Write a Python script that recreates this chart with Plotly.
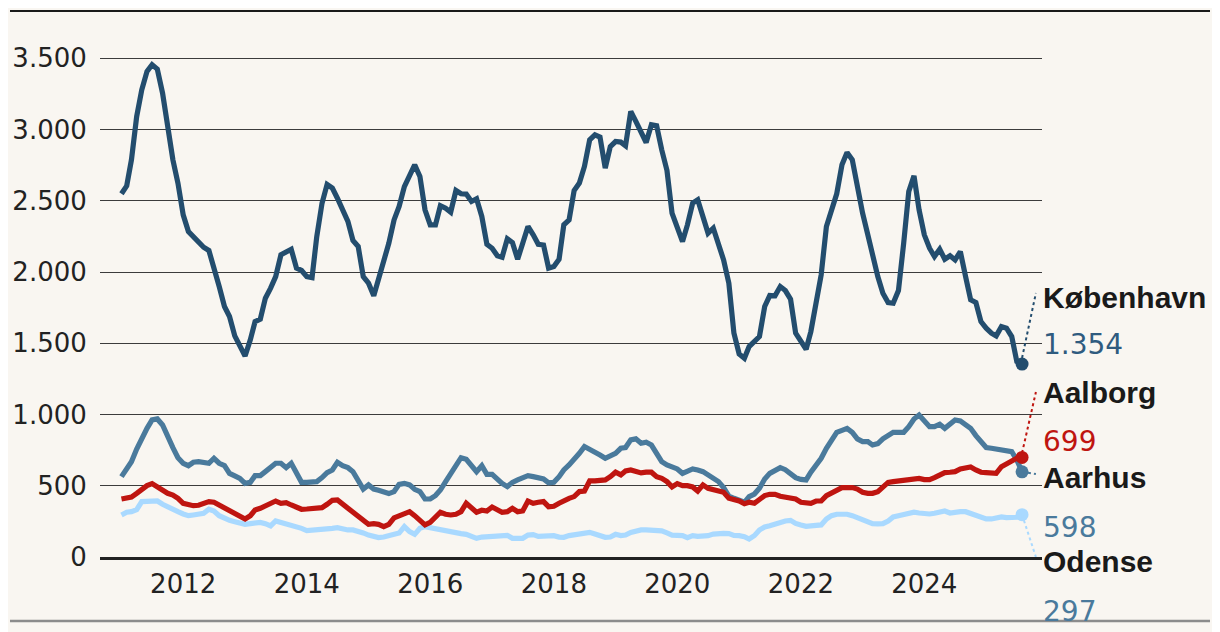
import pandas as pd
import plotly.graph_objects as go

# ---------------- data (monthly, Jan 2011 - Aug 2025) ----------------
start_month = "2011-01-01"
n_months = 176

koebenhavn = [
    2549, 2605, 2788, 3092, 3279, 3408, 3455, 3424, 3256, 3033,
    2788, 2624, 2401, 2284, 2249, 2202, 2174, 2151, 2039, 1898,
    1758, 1688, 1552, 1489, 1411, 1524, 1652, 1669, 1816, 1887,
    1968, 2121, 2144, 2160, 2027, 2011, 1968, 1961, 2249, 2483,
    2615, 2589, 2518, 2437, 2355, 2221, 2179, 1968, 1922, 1833,
    1945, 2074, 2202, 2366, 2460, 2600, 2682, 2752, 2671, 2437,
    2331, 2331, 2465, 2448, 2420, 2572, 2549, 2547, 2495, 2514,
    2390, 2195, 2167, 2114, 2104, 2233, 2207, 2090, 2202, 2320,
    2261, 2195, 2190, 2027, 2039, 2090, 2331, 2366, 2572, 2624,
    2741, 2928, 2963, 2947, 2729, 2881, 2916, 2912, 2886, 3127,
    3057, 2987, 2909, 3033, 3026, 2858, 2713, 2413, 2308, 2214,
    2331, 2483, 2507, 2390, 2273, 2308, 2202, 2085, 1922, 1571,
    1425, 1395, 1477, 1512, 1547, 1758, 1835, 1833, 1898, 1870,
    1809, 1571, 1512, 1458, 1582, 1809, 1980, 2320, 2425, 2549,
    2753, 2839, 2788, 2577, 2413, 2261, 2114, 1968, 1851, 1786,
    1781, 1870, 2202, 2565, 2675, 2437, 2261, 2167, 2109, 2160,
    2090, 2114, 2085, 2144, 1968, 1805, 1786, 1652, 1606, 1571,
    1552, 1617, 1606, 1547, 1372, 1354,
]

aarhus = [
    564, 623, 669, 758, 838, 903, 962, 969, 927, 838,
    768, 697, 658, 641, 665, 669, 665, 658, 693, 658,
    641, 587, 569, 552, 517, 524, 571, 571, 599, 627,
    658, 658, 627, 658, 580, 524, 524, 524, 529, 557,
    592, 611, 665, 641, 627, 599, 541, 477, 506, 477,
    468, 454, 445, 459, 510, 517, 506, 475, 459, 407,
    407, 431, 470, 529, 580, 634, 697, 686, 641, 599,
    641, 580, 580, 541, 517, 494, 524, 541, 557, 571,
    564, 552, 548, 520, 524, 564, 611, 646, 681, 728,
    775, 758, 735, 716, 693, 712, 728, 763, 768, 822,
    829, 798, 805, 786, 728, 669, 646, 634, 618, 587,
    599, 618, 610, 599, 576, 552, 529, 487, 428, 412,
    398, 384, 424, 442, 482, 548, 587, 609, 627, 613,
    583, 557, 545, 541, 595, 641, 693, 763, 822, 875,
    889, 903, 875, 829, 810, 810, 786, 796, 829, 852,
    875, 875, 875, 915, 969, 997, 955, 915, 915, 932,
    903, 939, 962, 955, 927, 903, 852, 810, 768, 763,
    758, 754, 747, 740, 681, 598,
]

aalborg = [
    407, 417, 421, 447, 477, 501, 515, 492, 470, 447,
    435, 412, 377, 365, 360, 363, 374, 389, 384, 365,
    342, 318, 304, 286, 267, 290, 330, 342, 360, 377,
    393, 377, 382, 365, 351, 335, 337, 337, 337, 346,
    370, 398, 400, 370, 346, 314, 290, 253, 229, 234,
    229, 213, 229, 274, 290, 300, 318, 290, 257, 225,
    243, 276, 314, 300, 295, 300, 318, 377, 346, 314,
    328, 323, 351, 330, 314, 318, 342, 318, 323, 393,
    377, 384, 389, 353, 356, 377, 398, 412, 424, 459,
    463, 534, 534, 541, 541, 564, 595, 576, 604, 611,
    604, 590, 595, 595, 564, 552, 529, 492, 515, 501,
    501, 492, 462, 506, 482, 470, 463, 454, 412, 407,
    393, 374, 384, 377, 400, 431, 440, 440, 426, 417,
    407, 407, 384, 377, 377, 393, 393, 431, 452, 470,
    487, 487, 487, 477, 454, 447, 447, 459, 494, 524,
    529, 534, 538, 543, 552, 552, 543, 543, 557, 576,
    592, 595, 599, 618, 627, 632, 611, 595, 592, 587,
    587, 634, 658, 674, 693, 699,
]

odense = [
    295, 314, 318, 332, 389, 389, 393, 393, 370, 351,
    330, 318, 302, 290, 295, 300, 307, 335, 323, 290,
    272, 257, 248, 241, 229, 234, 239, 243, 234, 218,
    253, 243, 239, 229, 220, 201, 185, 187, 192, 192,
    190, 201, 206, 194, 190, 190, 183, 169, 154, 143,
    136, 140, 147, 152, 168, 213, 178, 159, 201, 213,
    206, 190, 185, 178, 173, 166, 164, 159, 143, 131,
    140, 143, 143, 143, 143, 152, 131, 129, 131, 154,
    157, 145, 145, 147, 150, 140, 138, 150, 154, 159,
    169, 173, 161, 147, 138, 140, 159, 150, 154, 173,
    183, 190, 190, 187, 178, 183, 169, 154, 152, 150,
    136, 150, 145, 145, 150, 161, 166, 166, 164, 152,
    150, 143, 126, 150, 190, 211, 220, 232, 243, 253,
    257, 236, 225, 215, 218, 220, 225, 267, 290, 300,
    300, 300, 290, 276, 257, 241, 234, 232, 234, 253,
    281, 290, 297, 307, 314, 309, 304, 302, 307, 316,
    323, 309, 318, 318, 318, 304, 290, 276, 267, 267,
    276, 281, 276, 276, 279, 297,
]

series_names = ["København", "Aarhus", "Odense", "Aalborg"]
x_tick_years = ["2012", "2014", "2016", "2018", "2020", "2022", "2024"]
y_tick_vals = [0, 500, 1000, 1500, 2000, 2500, 3000, 3500]
y_tick_text = ["0", "500", "1.000", "1.500", "2.000", "2.500", "3.000", "3.500"]

# ---------------- styling ----------------
BG = "#f9f6f1"
colors = {
    "København": "#234d6e",
    "Aarhus": "#4a7a9c",
    "Odense": "#a9d9ff",
    "Aalborg": "#bf1510",
}
value_colors = {
    "København": "#2f5b7f",
    "Aarhus": "#4a7a9c",
    "Odense": "#4a7a9c",
    "Aalborg": "#bf1510",
}
values = {"København": koebenhavn, "Aarhus": aarhus, "Odense": odense, "Aalborg": aalborg}

dates = pd.date_range(start_month, periods=n_months, freq="MS")

fig = go.Figure()
for name in series_names:
    v = values[name]
    fig.add_trace(go.Scatter(
        x=dates, y=v, mode="lines", name=name,
        line=dict(color=colors[name], width=5.2),
        hoverinfo="skip", showlegend=False,
    ))
for name in series_names:
    v = values[name]
    fig.add_trace(go.Scatter(
        x=[dates[-1]], y=[v[-1]], mode="markers",
        marker=dict(color=colors[name], size=13),
        hoverinfo="skip", showlegend=False, cliponaxis=False,
    ))

# page has an 8px body margin: work in page pixels, convert to figure pixels
OFF = 8
W, H = 1220 - OFF, 632 - OFF
page_plot_left, page_plot_right = 100, 1042
page_zero, page_3500, page_top = 557, 58.3, 30
L = page_plot_left - OFF
R = W - (page_plot_right - OFF)
T = page_top - OFF
B = H - (page_zero - OFF)
plot_h = H - T - B
plot_w = W - L - R
y_max = 3500 * plot_h / (page_zero - page_3500)


def px_to_val(ypx):  # page pixel -> data value
    return (page_zero - ypx) / plot_h * y_max


def py_to_paper(ypx):
    return (page_zero - ypx) / plot_h


def px_to_paper(xpx):
    return (xpx - page_plot_left) / plot_w


def fmt(v):
    return f"{v:,}".replace(",", ".")


label_pos = {  # (name label y px, value label y px, leader end y px)
    "København": (297, 345, 293),
    "Aalborg": (392, 441, 392),
    "Aarhus": (477, 527, 474),
    "Odense": (561, 611, 557),
}
leader_start = {"København": 1397, "Aalborg": 730, "Aarhus": None, "Odense": None}

annotations = []
shapes = []
lead_dt = pd.Timedelta(days=82)
for name, (ny, vy, ly) in label_pos.items():
    v = values[name]
    annotations.append(dict(
        xref="paper", yref="paper", x=px_to_paper(1041), y=py_to_paper(ny),
        xanchor="left", yanchor="middle",
        text=f"<b>{name}</b>", showarrow=False,
        font=dict(family="Liberation Sans", size=30, color="#1a1a1a"),
    ))
    annotations.append(dict(
        xref="paper", yref="paper", x=px_to_paper(1041), y=py_to_paper(vy),
        xanchor="left", yanchor="middle",
        text=fmt(v[-1]), showarrow=False,
        font=dict(family="DejaVu Sans", size=28, color=value_colors[name]),
    ))
    y0 = leader_start[name] if leader_start[name] is not None else v[-1]
    shapes.append(dict(
        type="line", xref="x", yref="y",
        x0=dates[-1], y0=y0, x1=dates[-1] + lead_dt, y1=px_to_val(ly),
        line=dict(color=colors[name], width=2, dash="dot"),
    ))

# frame lines (top black, bottom grey)
shapes.append(dict(type="line", xref="paper", yref="paper",
                   x0=px_to_paper(10), x1=px_to_paper(1210),
                   y0=py_to_paper(11), y1=py_to_paper(11),
                   line=dict(color="#1a1a1a", width=2)))
shapes.append(dict(type="line", xref="paper", yref="paper",
                   x0=px_to_paper(10), x1=px_to_paper(1210),
                   y0=py_to_paper(621), y1=py_to_paper(621),
                   line=dict(color="#8c8c8c", width=2.5)))

fig.update_layout(
    width=W, height=H,
    margin=dict(l=L, r=R, t=T, b=B, autoexpand=False),
    paper_bgcolor=BG, plot_bgcolor=BG,
    font=dict(family="DejaVu Sans", size=26, color="#222222"),
    annotations=annotations, shapes=shapes,
    showlegend=False,
)
fig.update_xaxes(
    type="date", automargin=False,
    range=["2010-08-27", "2025-11-27"],
    tickvals=[f"{y}-01-01" for y in x_tick_years],
    ticktext=x_tick_years,
    showgrid=False, zeroline=False,
    showline=True, linecolor="#222222", linewidth=2.5,
    ticks="outside", ticklen=2, tickcolor=BG,
    tickfont=dict(family="DejaVu Sans", size=26, color="#222222"),
)
fig.update_yaxes(
    automargin=False,
    range=[0, y_max],
    tickvals=y_tick_vals, ticktext=y_tick_text,
    showgrid=True, gridcolor="#3c3c3c", gridwidth=1,
    zeroline=False, showline=False,
    ticks="outside", ticklen=7, tickcolor=BG,
    tickfont=dict(family="DejaVu Sans", size=26, color="#222222"),
)

fig.write_html("out.html")
